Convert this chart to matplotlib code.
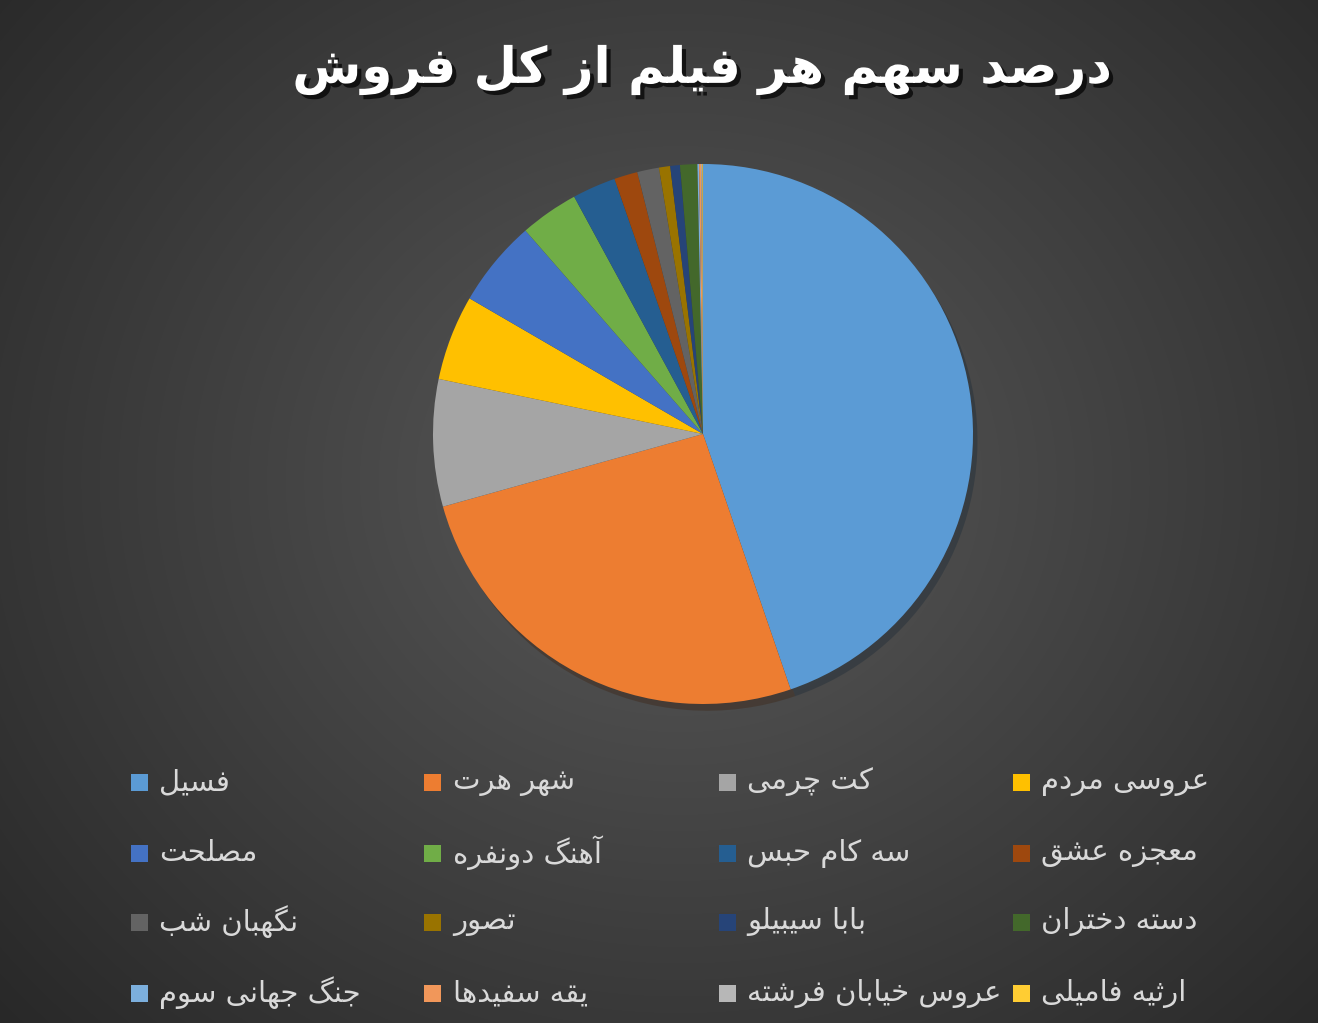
import numpy as np
import matplotlib.pyplot as plt
import matplotlib.patheffects as pe
from matplotlib.patches import Rectangle

# film names (Persian), share of total sales in percent
films = ["فسیل", "شهر هرت", "کت چرمی", "عروسی مردم",
         "مصلحت", "آهنگ دونفره", "سه کام حبس", "معجزه عشق",
         "نگهبان شب", "تصور", "بابا سیبیلو", "دسته دختران",
         "جنگ جهانی سوم", "یقه سفیدها", "عروس خیابان فرشته", "ارثیه فامیلی"]
shares = [44.7, 25.9, 7.6, 5.1,
          5.2, 3.5, 2.6, 1.4,
          1.3, 0.67, 0.58, 1.03,
          0.10, 0.12, 0.07, 0.04]
colors = ["#5B9BD5", "#ED7D31", "#A5A5A5", "#FFC000",
          "#4472C4", "#70AD47", "#255E91", "#9E480E",
          "#636363", "#997300", "#264478", "#43682B",
          "#7CAFDD", "#F1975A", "#B7B7B7", "#FFCD33"]
title = "درصد سهم هر فیلم از کل فروش"

# matplotlib has no arabic shaping, so do it by hand with presentation forms
# letter: (isolated, final, initial, medial); two-form letters only join to the right
FORMS = {
    "ا": (0xFE8D, 0xFE8E), "آ": (0xFE81, 0xFE82),
    "د": (0xFEA9, 0xFEAA), "ذ": (0xFEAB, 0xFEAC),
    "ر": (0xFEAD, 0xFEAE), "ز": (0xFEAF, 0xFEB0),
    "ژ": (0xFB8A, 0xFB8B), "و": (0xFEED, 0xFEEE),
    "ب": (0xFE8F, 0xFE90, 0xFE91, 0xFE92), "پ": (0xFB56, 0xFB57, 0xFB58, 0xFB59),
    "ت": (0xFE95, 0xFE96, 0xFE97, 0xFE98), "ث": (0xFE99, 0xFE9A, 0xFE9B, 0xFE9C),
    "ج": (0xFE9D, 0xFE9E, 0xFE9F, 0xFEA0), "چ": (0xFB7A, 0xFB7B, 0xFB7C, 0xFB7D),
    "ح": (0xFEA1, 0xFEA2, 0xFEA3, 0xFEA4), "خ": (0xFEA5, 0xFEA6, 0xFEA7, 0xFEA8),
    "س": (0xFEB1, 0xFEB2, 0xFEB3, 0xFEB4), "ش": (0xFEB5, 0xFEB6, 0xFEB7, 0xFEB8),
    "ص": (0xFEB9, 0xFEBA, 0xFEBB, 0xFEBC), "ع": (0xFEC9, 0xFECA, 0xFECB, 0xFECC),
    "ف": (0xFED1, 0xFED2, 0xFED3, 0xFED4), "ق": (0xFED5, 0xFED6, 0xFED7, 0xFED8),
    "ک": (0xFB8E, 0xFB8F, 0xFB90, 0xFB91), "گ": (0xFB92, 0xFB93, 0xFB94, 0xFB95),
    "ل": (0xFEDD, 0xFEDE, 0xFEDF, 0xFEE0), "م": (0xFEE1, 0xFEE2, 0xFEE3, 0xFEE4),
    "ن": (0xFEE5, 0xFEE6, 0xFEE7, 0xFEE8), "ه": (0xFEE9, 0xFEEA, 0xFEEB, 0xFEEC),
    "ی": (0xFBFC, 0xFBFD, 0xFBFE, 0xFBFF),
}


def shape(s):
    out = []
    for i, ch in enumerate(s):
        if ch not in FORMS:
            out.append(ch)
            continue
        prev = s[i - 1] if i > 0 else ""
        nxt = s[i + 1] if i + 1 < len(s) else ""
        join_prev = prev in FORMS and len(FORMS[prev]) == 4
        join_next = len(FORMS[ch]) == 4 and nxt in FORMS
        f = FORMS[ch]
        if join_prev and join_next:
            code = f[3]
        elif join_prev:
            code = f[1]
        elif join_next:
            code = f[2]
        else:
            code = f[0]
        out.append(chr(code))
    return "".join(out)[::-1]


W, H = 1318, 1023
fig = plt.figure(figsize=(W / 100, H / 100), dpi=100)

# radial dark background
bg = fig.add_axes([0, 0, 1, 1])
yy, xx = np.mgrid[0:H, 0:W]
d = np.sqrt(((xx - 680) / 900.0) ** 2 + ((yy - 480) / 800.0) ** 2)
g = np.clip(0.35 - 0.19 * d, 0.14, 0.35)
bg.imshow(np.dstack([g, g, g]), extent=[0, W, H, 0], aspect="auto")
bg.set_xlim(0, W)
bg.set_ylim(H, 0)
bg.axis("off")

# pie
cx, cy, r = 703, 434, 270
lim = 1.05
ra = r * lim
ax = fig.add_axes([(cx - ra) / W, (H - cy - ra) / H, 2 * ra / W, 2 * ra / H])
ax.pie(shares, colors=colors, startangle=90, counterclock=False,
       wedgeprops=dict(linewidth=0),
       shadow=dict(ox=0.012, oy=-0.018, shade=0.75, alpha=0.35))
ax.set_xlim(-lim, lim)
ax.set_ylim(-lim, lim)
ax.set_aspect("equal")

fig.text(702 / W, 1 - 70 / H, shape(title), color="white", fontsize=36,
         fontweight="bold", ha="center", va="center",
         path_effects=[pe.withSimplePatchShadow(offset=(3, -3),
                                                shadow_rgbFace="black", alpha=0.7)])

# legend grid, 4 columns
col_x = [139, 433, 727, 1021]
row_y = [782, 853, 922, 993]
sq = 17
for i, (name, c) in enumerate(zip(films, colors)):
    x = col_x[i % 4]
    y = row_y[i // 4]
    fig.patches.append(Rectangle(((x - sq / 2) / W, 1 - (y + sq / 2) / H), sq / W, sq / H,
                                 transform=fig.transFigure, facecolor=c,
                                 edgecolor="none"))
    fig.text((x + 20) / W, 1 - y / H, shape(name), color="#d9d9d9", fontsize=21,
             ha="left", va="center")

fig.savefig("out.png", dpi=100)
